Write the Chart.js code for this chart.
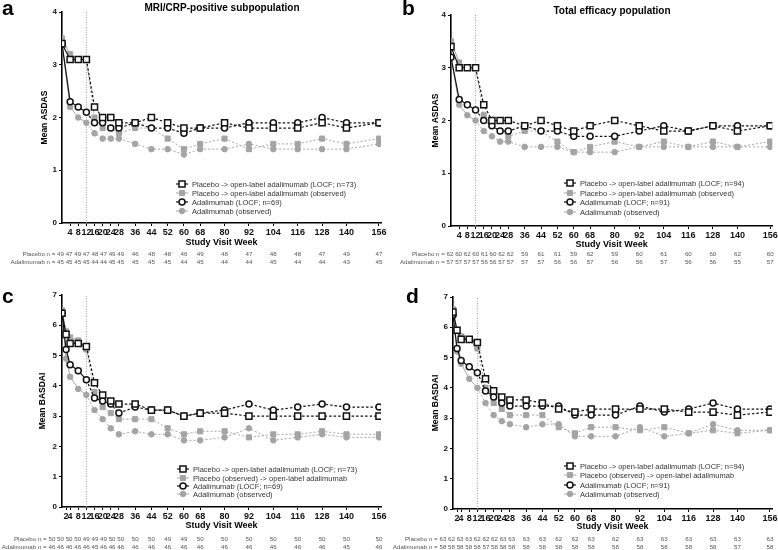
<!DOCTYPE html>
<html>
<head>
<meta charset="utf-8">
<script src="https://cdn.jsdelivr.net/npm/chart.js@4.4.0/dist/chart.umd.min.js"></script>
<style>
  body { margin: 0; background: #fff; width: 778px; height: 550px; position: relative; overflow: hidden; }
  .panel { position: absolute; }
</style>
</head>
<body>
<div class="panel" style="left:0;top:0"><canvas id="chartA" width="389" height="270"></canvas></div>
<div class="panel" style="left:388px;top:0"><canvas id="chartB" width="390" height="270"></canvas></div>
<div class="panel" style="left:0;top:270px"><canvas id="chartC" width="389" height="280"></canvas></div>
<div class="panel" style="left:388px;top:270px"><canvas id="chartD" width="390" height="280"></canvas></div>
<script>
// visit weeks
const weeksAB = [0, 4, 8, 12, 16, 20, 24, 28, 36, 44, 52, 60, 68, 80, 92, 104, 116, 128, 140, 156];
const weeksCD = [0, 2, 4, 8, 12, 16, 20, 24, 28, 36, 44, 52, 60, 68, 80, 92, 104, 116, 128, 140, 156];
const tickWeeksAB = [4, 8, 12, 16, 20, 24, 28, 36, 44, 52, 60, 68, 80, 92, 104, 116, 128, 140, 156];
const tickWeeksCD = [2, 4, 8, 12, 16, 20, 24, 28, 36, 44, 52, 60, 68, 80, 92, 104, 116, 128, 140, 156];
const lateWeeks = [36, 44, 52, 60, 68, 80, 92, 104, 116, 128, 140, 156];

// a: ASDAS, MRI/CRP-positive
const placeboLocfA = [3.4, 3.1, 3.1, 3.1, 2.2, 2.0, 2.0, 1.9, 1.9, 2.0, 1.9, 1.8, 1.8, 1.9, 1.8, 1.8, 1.8, 1.9, 1.8, 1.9];
const placeboObsA  = [3.5, 3.2, 3.1, 3.1, 2.0, 1.8, 1.8, 1.7, 1.8, 1.8, 1.6, 1.4, 1.5, 1.6, 1.4, 1.5, 1.5, 1.6, 1.5, 1.6];
const adaLocfA     = [3.4, 2.3, 2.2, 2.1, 1.9, 1.9, 1.8, 1.8, 1.9, 1.8, 1.8, 1.7, 1.8, 1.8, 1.9, 1.9, 1.9, 2.0, 1.9, 1.9];
const adaObsA      = [3.4, 2.2, 2.0, 1.9, 1.7, 1.6, 1.6, 1.6, 1.5, 1.4, 1.4, 1.3, 1.4, 1.4, 1.5, 1.4, 1.4, 1.4, 1.4, 1.5];

// b: ASDAS, total efficacy
const placeboLocfB = [3.4, 3.0, 3.0, 3.0, 2.3, 2.0, 2.0, 2.0, 1.9, 2.0, 1.9, 1.8, 1.9, 2.0, 1.9, 1.8, 1.8, 1.9, 1.8, 1.9];
const placeboObsB  = [3.5, 3.1, 3.0, 3.0, 2.1, 1.9, 1.8, 1.7, 1.8, 1.8, 1.6, 1.4, 1.5, 1.6, 1.5, 1.6, 1.5, 1.6, 1.5, 1.6];
const adaLocfB     = [3.2, 2.4, 2.3, 2.2, 2.0, 1.9, 1.8, 1.8, 1.9, 1.8, 1.8, 1.7, 1.7, 1.7, 1.8, 1.9, 1.8, 1.9, 1.9, 1.9];
const adaObsB      = [3.2, 2.3, 2.1, 2.0, 1.8, 1.7, 1.6, 1.6, 1.5, 1.5, 1.5, 1.4, 1.4, 1.4, 1.5, 1.5, 1.5, 1.5, 1.5, 1.5];

// c: BASDAI, MRI/CRP-positive
const placeboLocfC = [6.4, 5.7, 5.4, 5.4, 5.3, 4.1, 3.7, 3.5, 3.4, 3.4, 3.2, 3.2, 3.0, 3.1, 3.1, 3.0, 3.0, 3.0, 3.0, 3.0, 3.0];
const placeboObsC  = [6.5, 5.8, 5.6, 5.5, 5.2, 3.8, 3.3, 3.1, 2.9, 2.9, 2.9, 2.6, 2.4, 2.5, 2.5, 2.3, 2.4, 2.4, 2.5, 2.4, 2.4];
const adaLocfC     = [6.4, 5.2, 4.7, 4.5, 4.2, 3.6, 3.5, 3.4, 3.1, 3.3, 3.2, 3.2, 3.0, 3.1, 3.2, 3.4, 3.2, 3.3, 3.4, 3.3, 3.3];
const adaObsC      = [6.4, 4.9, 4.3, 3.9, 3.7, 3.2, 2.9, 2.6, 2.4, 2.5, 2.4, 2.4, 2.2, 2.2, 2.3, 2.6, 2.2, 2.3, 2.4, 2.3, 2.3];

// d: BASDAI, total efficacy
const placeboLocfD = [6.5, 5.9, 5.6, 5.6, 5.5, 4.3, 3.9, 3.7, 3.6, 3.6, 3.5, 3.3, 3.2, 3.3, 3.3, 3.3, 3.3, 3.2, 3.2, 3.1, 3.2];
const placeboObsD  = [6.6, 5.9, 5.7, 5.6, 5.3, 4.0, 3.5, 3.3, 3.1, 3.1, 3.1, 2.7, 2.5, 2.7, 2.7, 2.6, 2.7, 2.5, 2.6, 2.5, 2.6];
const adaLocfD     = [6.4, 5.3, 4.9, 4.7, 4.5, 3.9, 3.7, 3.5, 3.4, 3.4, 3.4, 3.4, 3.1, 3.1, 3.1, 3.4, 3.2, 3.3, 3.5, 3.3, 3.3];
const adaObsD      = [6.4, 5.2, 4.8, 4.3, 4.0, 3.5, 3.1, 2.9, 2.8, 2.7, 2.8, 2.8, 2.4, 2.4, 2.4, 2.7, 2.4, 2.5, 2.8, 2.6, 2.6];

// patients per visit (first group = weeks up to 28, rest = lateWeeks)
const nPlaceboA = [49, 47, 49, 47, 48, 47, 49, 49, 46, 48, 48, 46, 49, 48, 47, 48, 48, 47, 49, 47];
const nAdaA     = [45, 45, 45, 45, 44, 44, 45, 45, 45, 45, 45, 44, 45, 44, 44, 45, 44, 44, 43, 45];
const nPlaceboB = [62, 60, 62, 60, 61, 60, 62, 62, 59, 61, 61, 59, 62, 59, 60, 61, 60, 60, 62, 60];
const nAdaB     = [57, 57, 57, 57, 56, 56, 57, 57, 57, 57, 56, 56, 57, 56, 56, 57, 56, 56, 55, 57];
const nPlaceboC = [50, 50, 50, 50, 49, 49, 49, 50, 50, 50, 50, 49, 49, 50, 50, 50, 50, 50, 50, 50, 50];
const nAdaC     = [46, 46, 46, 46, 46, 45, 46, 46, 46, 46, 46, 46, 46, 46, 46, 46, 46, 46, 46, 45, 46];
const nPlaceboD = [63, 62, 63, 63, 62, 62, 62, 63, 63, 63, 63, 62, 62, 63, 62, 63, 63, 63, 63, 63, 63];
const nAdaD     = [58, 58, 58, 58, 58, 57, 58, 58, 58, 58, 58, 58, 58, 58, 58, 58, 58, 58, 58, 57, 58];

const BLACK = "#111111";
const GREY = "#a4a4a4";
const FONT = "'Liberation Sans', Arial, sans-serif";

function toPoints(weeks, values) {
  return values.map((v, i) => ({ x: weeks[i], y: v }));
}

// solid up to week 12, dashed after
function dashAfter12(dash) {
  return { borderDash: ctx => (ctx.p0.parsed.x >= 12 ? dash : []) };
}

function drawMarker(ctx, ds, x, y) {
  ctx.save();
  ctx.fillStyle = ds.pointBackgroundColor;
  ctx.strokeStyle = ds.pointBorderColor;
  ctx.lineWidth = ds.pointBorderWidth;
  ctx.beginPath();
  if (ds.pointStyle === "rect") {
    const h = ds.pointRadius * Math.SQRT1_2;
    ctx.rect(x - h, y - h, 2 * h, 2 * h);
  } else {
    ctx.arc(x, y, ds.pointRadius, 0, Math.PI * 2);
  }
  ctx.fill();
  ctx.stroke();
  ctx.restore();
}

const panelDecor = {
  id: "panelDecor",
  afterDraw(chart, args, opts) {
    const ctx = chart.ctx;
    const xs = chart.scales.x;
    ctx.save();

    // panel letter
    ctx.fillStyle = "#000";
    ctx.textAlign = "left";
    ctx.textBaseline = "alphabetic";
    ctx.font = "bold 21px " + FONT;
    ctx.fillText(opts.letter, opts.letterX, opts.letterY);

    // panel title
    if (opts.title) {
      ctx.font = "bold 10px " + FONT;
      ctx.textAlign = "center";
      ctx.textBaseline = "middle";
      ctx.fillText(opts.title, opts.titleX, opts.titleY);
    }

    // legend inside plot
    ctx.font = "7.5px " + FONT;
    ctx.textBaseline = "middle";
    ctx.textAlign = "left";
    chart.data.datasets.slice(0, 4).forEach((ds, i) => {
      const y = opts.legendY[i];
      ctx.save();
      ctx.strokeStyle = ds.borderColor;
      ctx.lineWidth = ds.borderWidth;
      ctx.beginPath();
      ctx.moveTo(opts.legendX - 6, y);
      ctx.lineTo(opts.legendX + 6, y);
      ctx.stroke();
      ctx.restore();
      drawMarker(ctx, ds, opts.legendX, y);
      ctx.fillStyle = "#333";
      ctx.fillText(ds.label, opts.legendX + 10, y + 0.5);
    });

    // number of patients rows
    ctx.font = "6.2px " + FONT;
    ctx.fillStyle = "#555";
    opts.nRows.forEach(row => {
      const nEarly = row.values.length - lateWeeks.length;
      const early = row.values.slice(0, nEarly);
      const late = row.values.slice(nEarly);
      ctx.textAlign = "right";
      ctx.fillText(row.label + " = " + early.join(" "), xs.getPixelForValue(36) - 11, row.y);
      ctx.textAlign = "center";
      late.forEach((v, i) => ctx.fillText(String(v), xs.getPixelForValue(lateWeeks[i]), row.y));
    });

    ctx.restore();
  }
};

function makeChart(id, cfg) {
  const weeks = cfg.weeks;
  const datasets = [
    {
      label: cfg.labels[0], data: toPoints(weeks, cfg.series[0]), order: 0,
      borderColor: BLACK, borderWidth: 1.2, segment: dashAfter12([2.5, 2]),
      pointStyle: "rect", pointRadius: 4.3, pointBackgroundColor: "#fff",
      pointBorderColor: BLACK, pointBorderWidth: 1.5
    },
    {
      label: cfg.labels[1], data: toPoints(weeks, cfg.series[1]), order: 1,
      borderColor: GREY, borderWidth: 1, segment: dashAfter12([2, 2]),
      pointStyle: "rect", pointRadius: 3.6, pointBackgroundColor: GREY,
      pointBorderColor: GREY, pointBorderWidth: 1
    },
    {
      label: cfg.labels[2], data: toPoints(weeks, cfg.series[2]), order: 0,
      borderColor: BLACK, borderWidth: 1.2, segment: dashAfter12([2.5, 2]),
      pointStyle: "circle", pointRadius: 3, pointBackgroundColor: "#fff",
      pointBorderColor: BLACK, pointBorderWidth: 1.5
    },
    {
      label: cfg.labels[3], data: toPoints(weeks, cfg.series[3]), order: 1,
      borderColor: GREY, borderWidth: 1, segment: dashAfter12([2, 2]),
      pointStyle: "circle", pointRadius: 2.8, pointBackgroundColor: GREY,
      pointBorderColor: GREY, pointBorderWidth: 1
    },
    {
      label: "week 12", data: [{ x: 12, y: 0 }, { x: 12, y: cfg.yMax }], order: 2,
      borderColor: "#9a9a9a", borderWidth: 1, borderDash: [1, 1.5], pointRadius: 0
    }
  ];

  return new Chart(document.getElementById(id), {
    type: "line",
    data: { datasets },
    options: {
      responsive: false,
      animation: false,
      events: [],
      layout: { padding: { left: cfg.padLeft, top: cfg.plotTop, right: cfg.padRight, bottom: 0 } },
      scales: {
        x: {
          type: "linear", min: 0, max: 157,
          afterBuildTicks: s => { s.ticks = cfg.tickWeeks.map(v => ({ value: v })); },
          afterFit: s => { s.height = cfg.canvasH - cfg.plotBottom; s.paddingLeft = 0; s.paddingRight = 0; },
          ticks: {
            autoSkip: false, maxRotation: 0, minRotation: 0, padding: 1,
            color: "#111", font: { family: FONT, size: 9, weight: "bold" }
          },
          grid: { drawOnChartArea: false, drawTicks: true, tickLength: 3, color: "#000" },
          border: { color: "#000", width: 1.6 },
          title: {
            display: true, text: "Study Visit Week", color: "#000",
            font: { family: FONT, size: 9, weight: "bold" },
            padding: { top: 0, bottom: cfg.xTitlePad }
          }
        },
        y: {
          min: 0, max: cfg.yMax,
          afterFit: s => { s.width = cfg.plotLeft - cfg.padLeft; s.paddingTop = 0; s.paddingBottom = 0; },
          ticks: { stepSize: 1, padding: 2, color: "#111", font: { family: FONT, size: 8, weight: "bold" } },
          grid: { drawOnChartArea: false, drawTicks: true, tickLength: 3, color: "#000" },
          border: { color: "#000", width: 1.6 },
          title: {
            display: true, text: cfg.yTitle, color: "#000",
            font: { family: FONT, size: 8.5, weight: "bold" },
            padding: { top: 4, bottom: 0 }
          }
        }
      },
      plugins: {
        legend: { display: false },
        tooltip: { enabled: false },
        panelDecor: {
          letter: cfg.letter, letterX: cfg.letterX, letterY: cfg.letterY,
          title: cfg.title, titleX: cfg.titleX, titleY: cfg.titleY,
          legendX: cfg.legendX, legendY: cfg.legendY,
          nRows: cfg.nRows
        }
      }
    },
    plugins: [panelDecor]
  });
}

makeChart("chartA", {
  weeks: weeksAB, tickWeeks: tickWeeksAB, yMax: 4, yTitle: "Mean ASDAS",
  series: [placeboLocfA, placeboObsA, adaLocfA, adaObsA],
  labels: ["Placebo -> open-label adalimumab (LOCF; n=73)", "Placebo -> open-label adalimumab (observed)",
           "Adalimumab (LOCF; n=69)", "Adalimumab (observed)"],
  canvasH: 270, plotTop: 12, plotBottom: 223, plotLeft: 62, padLeft: 36, padRight: 8, xTitlePad: 22,
  letter: "a", letterX: 2, letterY: 15,
  title: "MRI/CRP-positive subpopulation", titleX: 222, titleY: 8,
  legendX: 182, legendY: [184, 193, 202, 211],
  nRows: [{ label: "Placebo n", values: nPlaceboA, y: 254 }, { label: "Adalimumab n", values: nAdaA, y: 262 }]
});

makeChart("chartB", {
  weeks: weeksAB, tickWeeks: tickWeeksAB, yMax: 4, yTitle: "Mean ASDAS",
  series: [placeboLocfB, placeboObsB, adaLocfB, adaObsB],
  labels: ["Placebo -> open-label adalimumab (LOCF; n=94)", "Placebo -> open-label adalimumab (observed)",
           "Adalimumab (LOCF; n=91)", "Adalimumab (observed)"],
  canvasH: 270, plotTop: 15, plotBottom: 226, plotLeft: 63, padLeft: 39, padRight: 5, xTitlePad: 20,
  letter: "b", letterX: 14, letterY: 15,
  title: "Total efficacy population", titleX: 224, titleY: 11,
  legendX: 182, legendY: [183, 193, 202, 212],
  nRows: [{ label: "Placebo n", values: nPlaceboB, y: 254 }, { label: "Adalimumab n", values: nAdaB, y: 262 }]
});

makeChart("chartC", {
  weeks: weeksCD, tickWeeks: tickWeeksCD, yMax: 7, yTitle: "Mean BASDAI",
  series: [placeboLocfC, placeboObsC, adaLocfC, adaObsC],
  labels: ["Placebo -> open-label adalimumab (LOCF; n=73)", "Placebo (observed) -> open-label adalimumab",
           "Adalimumab (LOCF; n=69)", "Adalimumab (observed)"],
  canvasH: 280, plotTop: 25, plotBottom: 237, plotLeft: 62, padLeft: 34, padRight: 8, xTitlePad: 19,
  letter: "c", letterX: 2, letterY: 33,
  title: "", titleX: 0, titleY: 0,
  legendX: 183, legendY: [199, 208, 216, 224],
  nRows: [{ label: "Placebo n", values: nPlaceboC, y: 269 }, { label: "Adalimumab n", values: nAdaC, y: 277 }]
});

makeChart("chartD", {
  weeks: weeksCD, tickWeeks: tickWeeksCD, yMax: 7, yTitle: "Mean BASDAI",
  series: [placeboLocfD, placeboObsD, adaLocfD, adaObsD],
  labels: ["Placebo -> open-label adalimumab (LOCF; n=94)", "Placebo (observed) -> open-label adalimumab",
           "Adalimumab (LOCF; n=91)", "Adalimumab (observed)"],
  canvasH: 280, plotTop: 27, plotBottom: 239, plotLeft: 65, padLeft: 39, padRight: 6, xTitlePad: 18,
  letter: "d", letterX: 18, letterY: 33,
  title: "", titleX: 0, titleY: 0,
  legendX: 182, legendY: [196, 205, 215, 224],
  nRows: [{ label: "Placebo n", values: nPlaceboD, y: 269 }, { label: "Adalimumab n", values: nAdaD, y: 277 }]
});
</script>
</body>
</html>
